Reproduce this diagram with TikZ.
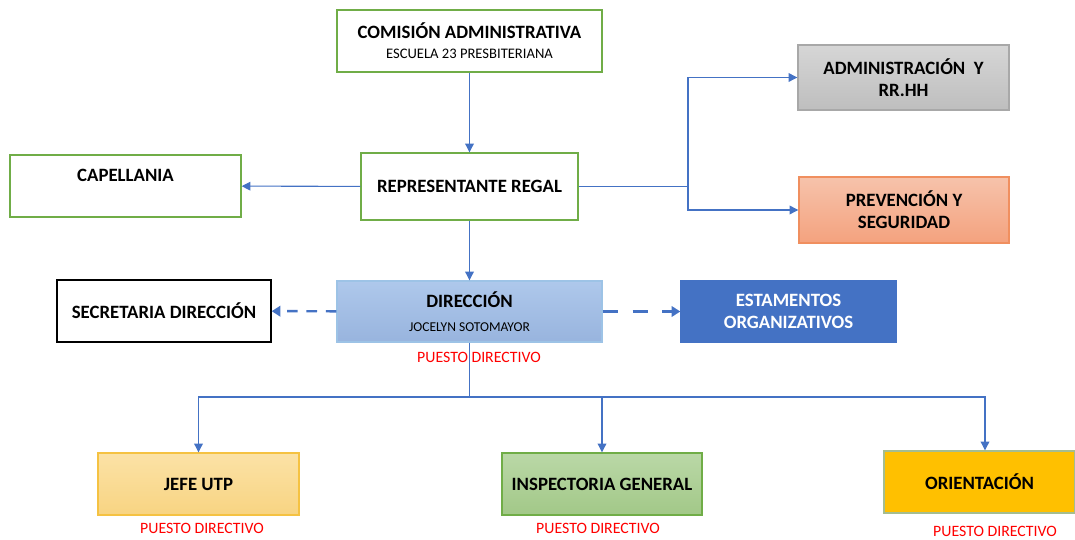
\documentclass[tikz,border=0pt]{standalone}
\usepackage{fontspec}
\setmainfont{Carlito}
\usepackage{xcolor}
\usetikzlibrary{arrows.meta}

\definecolor{lineblue}{HTML}{4472C4}
\definecolor{boxgreen}{HTML}{70AD47}
\definecolor{puesto}{HTML}{FF0000}
\definecolor{grayline}{HTML}{A8A8A8}
\definecolor{graytop}{HTML}{D6D6D6}
\definecolor{graybot}{HTML}{BEBEBE}
\definecolor{orline}{HTML}{F08F5F}
\definecolor{ortop}{HTML}{F6C3AB}
\definecolor{orbot}{HTML}{F4A27E}
\definecolor{dirline}{HTML}{9DC3E6}
\definecolor{dirtop}{HTML}{AEC8EB}
\definecolor{dirbot}{HTML}{98B4DE}
\definecolor{utpline}{HTML}{F5C242}
\definecolor{utptop}{HTML}{FBE2A6}
\definecolor{utpbot}{HTML}{F8D482}
\definecolor{insptop}{HTML}{BAD8A7}
\definecolor{inspbot}{HTML}{A2C888}
\definecolor{orifill}{HTML}{FFC000}
\definecolor{oriline}{HTML}{A5BD8F}

\begin{document}
\begin{tikzpicture}[x = 0.02cm, y = -0.02cm,
	box/.style = {draw, line width = .8pt, align = center, inner sep = 0pt,
		font = \bfseries\fontsize{10.7}{12.5}\selectfont},
	greenbox/.style = {box, draw = boxgreen, fill = white},
	conn/.style = {draw = lineblue, line width = .6pt, -{Triangle[length = 5pt, width = 5pt]}},
	dashconn/.style = {draw = lineblue, line width = 1.4pt, dash pattern = on 6pt off 5pt,
		-{Triangle[length = 5pt, width = 6pt]}},
	puestolbl/.style = {text = puesto, font = \fontsize{9}{10}\selectfont, inner sep = 0pt}]
	\useasboundingbox (0,0) rectangle (1075,540);

	% top level
	\node[greenbox, minimum width = 5.3cm, minimum height = 1.24cm] (com) at (469.5,41)
		{COMISIÓN ADMINISTRATIVA\\[-1pt]{\mdseries\fontsize{8.3}{9.5}\selectfont ESCUELA 23 PRESBITERIANA}};
	\node[greenbox, minimum width = 4.34cm, minimum height = 1.34cm] (rep) at (469.5,186.5) {REPRESENTANTE REGAL};
	\node[greenbox, minimum width = 4.62cm, minimum height = 1.24cm] (cap) at (125.5,186) {CAPELLANIA\\[-4pt]\strut};
	\node[box, draw = grayline, top color = graytop, bottom color = graybot, minimum width = 4.22cm, minimum height = 1.3cm]
		(adm) at (903.5,77.5) {ADMINISTRACIÓN\ \ Y\\RR.HH};
	\node[box, draw = orline, top color = ortop, bottom color = orbot,
		minimum width = 4.2cm, minimum height = 1.32cm] (prev) at (904,210) {PREVENCIÓN Y\\SEGURIDAD};

	% direccion
	\node[box, draw = black, fill = white, minimum width = 4.28cm, minimum height = 1.24cm] (sec) at (164,311) {SECRETARIA DIRECCIÓN};
	\node[box, draw = dirline, top color = dirtop, bottom color = dirbot,
		minimum width = 5.3cm, minimum height = 1.22cm] (dir) at (469.5,311.5)
		{DIRECCIÓN\\[1pt]{\mdseries\fontsize{7.7}{9}\selectfont JOCELYN SOTOMAYOR}};
	\node[box, draw = lineblue, fill = lineblue, text = white, minimum width = 4.3cm, minimum height = 1.22cm]
		(est) at (788.5,311.5) {ESTAMENTOS\\ORGANIZATIVOS};
	\node[puestolbl] (pdir) at (479,357) {PUESTO DIRECTIVO};

	% bottom row
	\node[box, draw = utpline, top color = utptop, bottom color = utpbot,
		minimum width = 4.02cm, minimum height = 1.24cm] (jefe) at (198.5,484) {JEFE UTP};
	\node[box, draw = boxgreen, top color = insptop, bottom color = inspbot,
		minimum width = 4cm, minimum height = 1.24cm] (insp) at (602,484) {INSPECTORIA GENERAL};
	\node[box, draw = oriline, fill = orifill,
		minimum width = 3.82cm, minimum height = 1.24cm] (ori) at (979.5,482) {ORIENTACIÓN};
	\node[puestolbl] (pjefe) at (202,528) {PUESTO DIRECTIVO};
	\node[puestolbl] (pinsp) at (598,528) {PUESTO DIRECTIVO};
	\node[puestolbl] (pori) at (995,531) {PUESTO DIRECTIVO};

	% connectors
	\coordinate (split) at (688,186.5);
	\coordinate (bus) at (469.5,397);
	\draw[conn] (com) -- (rep);
	\draw[conn] (rep) -- (cap);
	\draw[conn] (rep.east) -- (split) |- (adm.west);
	\draw[conn] (split) |- (prev.west);
	\draw[conn] (rep) -- (dir);
	\draw[dashconn] (dir) -- (sec);
	\draw[dashconn, line width = 2.2pt, dash pattern = on 9pt off 8pt] (dir) -- (est);
	\draw[draw = lineblue, line width = .6pt] (dir.south) -- (bus);
	\draw[conn] (bus) -| (jefe.north);
	\draw[conn] (bus) -| (insp.north);
	\draw[conn] (bus) -| ([xshift = .11cm]ori.north);
\end{tikzpicture}
\end{document}
